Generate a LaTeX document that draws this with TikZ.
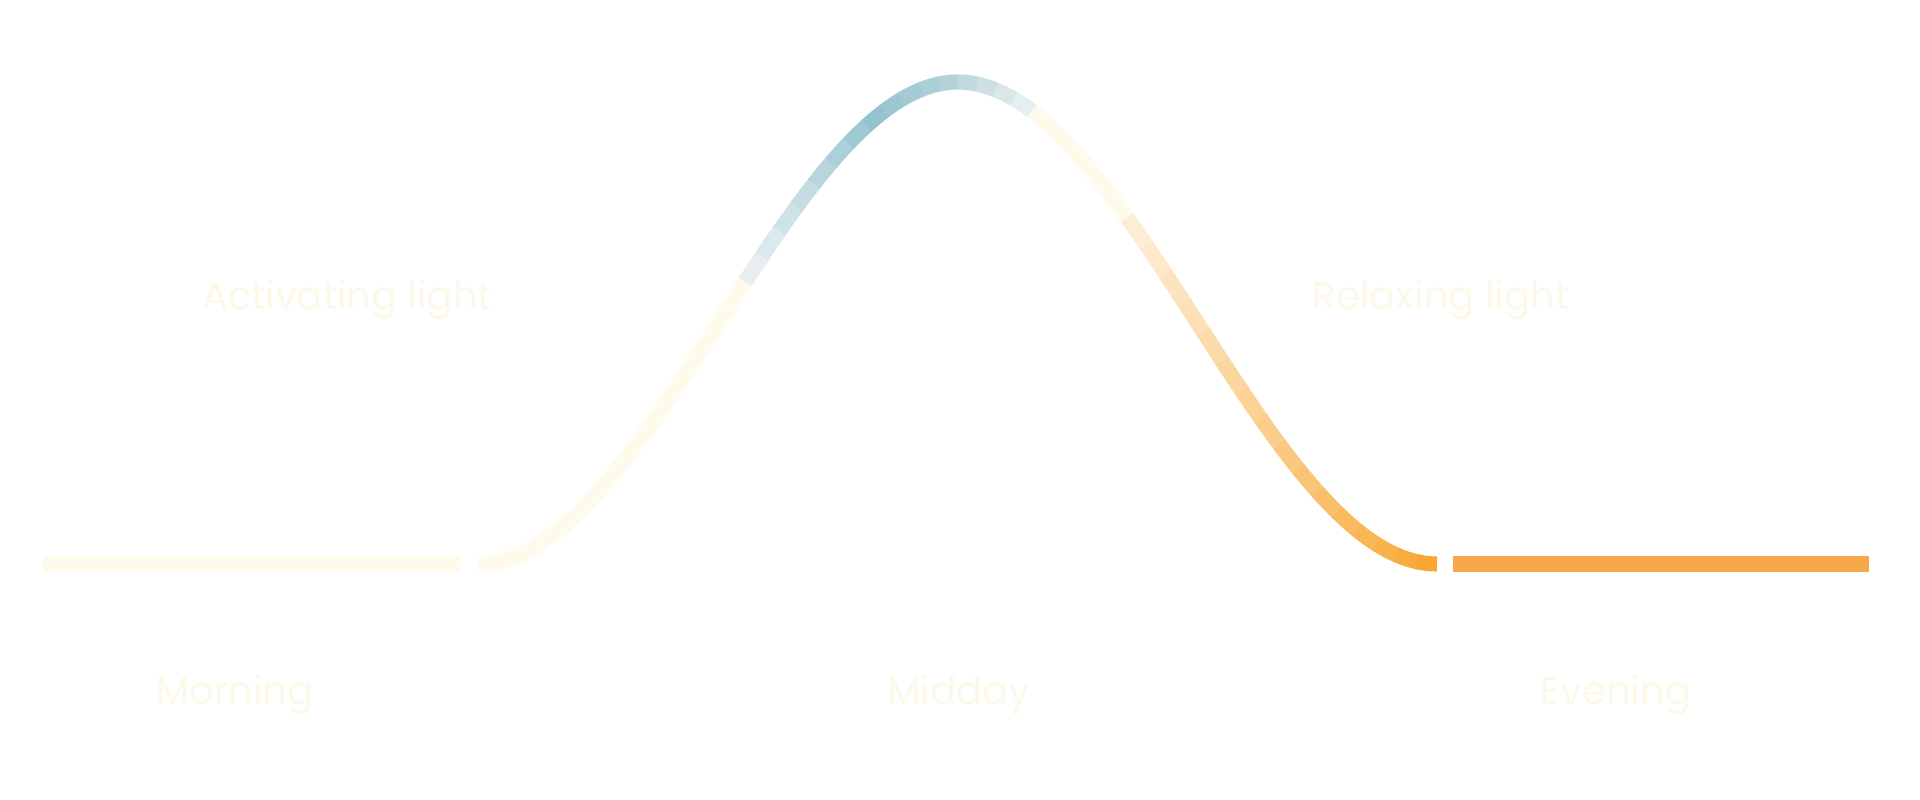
\documentclass[tikz,border=0pt]{standalone}
\usepackage{fontspec}
\setmainfont{Poppins}
\usepackage{tikz}
\definecolor{creamlight}{HTML}{FEFAEC}
\definecolor{creamtext}{HTML}{FDF9E8}
\definecolor{bluelight}{HTML}{E6EEF1}
\definecolor{bluedark}{HTML}{95C3CD}
\definecolor{bluemid}{HTML}{B3D2DA}
\definecolor{peachlight}{HTML}{FEEDD5}
\definecolor{orangedark}{HTML}{F8A733}
\definecolor{orangeline}{HTML}{F7A94A}

\begin{document}
\begin{tikzpicture}[
  curve/.style={line width=4.3pt, line cap=butt},
  lbl/.style={font=\fontsize{11}{13}\selectfont, text=creamtext, anchor=base, inner sep=0pt},
  declare function={
    bx(\u)=3*(1-\u)^2*\u*1.68+3*(1-\u)*\u^2*3.11+\u^3*4.79;
    by(\u)=4.82*(3*\u^2-2*\u^3);
  },
]

%% ---- Canvas ----
\fill[white] (0,0) rectangle (19.2,8);
\useasboundingbox (0,0) rectangle (19.2,8);

%% ---- Flat parts ----
\coordinate (mornA) at (0.43,2.36);
\coordinate (mornB) at (4.60,2.36);
\coordinate (eveA)  at (14.53,2.36);
\coordinate (eveB)  at (18.69,2.36);
\draw[curve, creamlight] (mornA) -- (mornB);
\draw[curve, orangeline] (eveA) -- (eveB);

%% ---- Rising branch: cream, then blue ----
\draw[curve, creamlight] plot[variable=\u, domain=0:0.56, samples=30]
  ({4.79+bx(\u)}, {2.36+by(\u)});
\foreach \i in {0,...,7}{
  \pgfmathsetmacro{\ta}{0.557+\i*0.0366}
  \pgfmathsetmacro{\tb}{\ta+0.0396}
  \pgfmathtruncatemacro{\p}{\i/7*100}
  \draw[curve, bluedark!\p!bluelight] plot[variable=\u, domain=\ta:\tb, samples=5]
    ({4.79+bx(\u)}, {2.36+by(\u)});
}
\foreach \i in {0,...,3}{
  \pgfmathsetmacro{\ta}{0.85+\i*0.0375}
  \pgfmathsetmacro{\tb}{min(\ta+0.0405,1)}
  \pgfmathtruncatemacro{\p}{(\i+1)/4*100}
  \draw[curve, bluemid!\p!bluedark] plot[variable=\u, domain=\ta:\tb, samples=5]
    ({4.79+bx(\u)}, {2.36+by(\u)});
}

%% ---- Falling branch: blue, cream, then orange ----
\foreach \i in {0,...,3}{
  \pgfmathsetmacro{\ta}{\i*0.0375}
  \pgfmathsetmacro{\tb}{\ta+0.0405}
  \pgfmathtruncatemacro{\p}{(\i+1)/4*100}
  \draw[curve, bluelight!\p!bluemid] plot[variable=\u, domain=\ta:\tb, samples=5]
    ({9.58+bx(\u)}, {7.18-by(\u)});
}
\draw[curve, creamlight] plot[variable=\u, domain=0.15:0.353, samples=12]
  ({9.58+bx(\u)}, {7.18-by(\u)});
\foreach \i in {0,...,15}{
  \pgfmathsetmacro{\ta}{0.35+\i*0.040625}
  \pgfmathsetmacro{\tb}{min(\ta+0.0436,1)}
  \pgfmathtruncatemacro{\p}{\i/15*100}
  \draw[curve, orangedark!\p!peachlight] plot[variable=\u, domain=\ta:\tb, samples=5]
    ({9.58+bx(\u)}, {7.18-by(\u)});
}

%% ---- Labels ----
\node[lbl] (activating) at (3.47,4.90) {Activating light};
\node[lbl] (relaxing)   at (14.41,4.90) {Relaxing light};
\node[lbl] (morning)    at (2.35,0.95) {Morning};
\node[lbl] (midday)     at (9.59,0.95) {Midday};
\node[lbl] (evening)    at (16.16,0.95) {Evening};

\end{tikzpicture}
\end{document}
